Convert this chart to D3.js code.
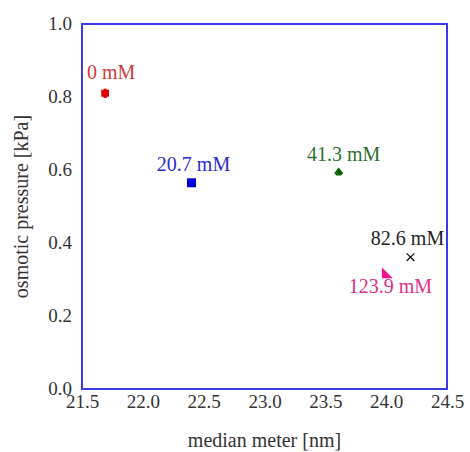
<!DOCTYPE html>
<html>
<head>
<meta charset="utf-8">
<script src="https://cdn.jsdelivr.net/npm/d3@7"></script>
<style>
  body { margin: 0; background: #fff; }
</style>
</head>
<body>
<svg id="chart" width="470" height="452"></svg>
<script>
// Données
var concentrations = ["0 mM", "20.7 mM", "41.3 mM", "82.6 mM", "123.9 mM"];
var medianMeter = [21.69, 22.40, 23.61, 24.20, 24.01];
var osmoticPressure = [0.810, 0.565, 0.595, 0.361, 0.318];
var xTicks = [21.5, 22.0, 22.5, 23.0, 23.5, 24.0, 24.5];
var yTicks = [0.0, 0.2, 0.4, 0.6, 0.8, 1.0];

var serif = "'Times New Roman', 'Liberation Serif', Tinos, 'DejaVu Serif', serif";

// Style de chaque série (couleur, symbole, décalage de l'étiquette)
var seriesStyle = [
  { mark: "#e00000", text: "#d03a3a", shape: "blob",   size: 60, dx: 6,  dy: -14 },
  { mark: "#0000dd", text: "#2b2bd0", shape: "square", size: 81, dx: 2,  dy: -12 },
  { mark: "#006400", text: "#2f6e2f", shape: "club",   size: 64, dx: 5,  dy: -11 },
  { mark: "#111111", text: "#222222", shape: "times",  size: 40, dx: -3, dy: -12 },
  { mark: "#ee1188", text: "#e0308a", shape: "corner", size: 60, dx: 3,  dy: 20 }
];

var margin = { top: 24, right: 23, bottom: 63, left: 82 };
var width = 470 - margin.left - margin.right;
var height = 452 - margin.top - margin.bottom;

var svg = d3.select("#chart").attr("font-family", serif);
var g = svg.append("g")
  .attr("transform", "translate(" + margin.left + "," + margin.top + ")");

var x = d3.scaleLinear().domain([21.5, 24.5]).range([0, width]);
var y = d3.scaleLinear().domain([0, 1]).range([height, 0]);

// Symboles maison
var symbolCorner = {
  draw: function(ctx, size) {
    var s = Math.sqrt(size) * 1.4;
    ctx.moveTo(-s / 2, -s / 2);
    ctx.lineTo(s / 2, s / 2);
    ctx.lineTo(-s / 2, s / 2);
    ctx.closePath();
  }
};
var symbolClub = {
  draw: function(ctx, size) {
    var r = Math.sqrt(size) / 2;
    ctx.moveTo(0, -r * 1.1);
    ctx.lineTo(r * 1.1, r * 0.3);
    ctx.lineTo(r * 0.6, r * 0.9);
    ctx.lineTo(-r * 0.6, r * 0.9);
    ctx.lineTo(-r * 1.1, r * 0.3);
    ctx.closePath();
  }
};
var symbolBlob = {
  draw: function(ctx, size) {
    var r = Math.sqrt(size) / 2;
    ctx.moveTo(-r * 0.4, -r * 1.2);
    ctx.lineTo(r * 0.4, -r * 1.2);
    ctx.lineTo(r * 0.4, -r * 0.9);
    ctx.lineTo(r, -r * 0.9);
    ctx.lineTo(r, r * 0.9);
    ctx.lineTo(r * 0.4, r * 0.9);
    ctx.lineTo(r * 0.4, r * 1.2);
    ctx.lineTo(-r * 0.4, r * 1.2);
    ctx.lineTo(-r * 0.4, r * 0.9);
    ctx.lineTo(-r, r * 0.9);
    ctx.lineTo(-r, -r * 0.9);
    ctx.lineTo(-r * 0.4, -r * 0.9);
    ctx.closePath();
  }
};
var shapes = {
  blob: symbolBlob,
  square: d3.symbolSquare,
  club: symbolClub,
  times: d3.symbolTimes,
  corner: symbolCorner
};

// Axes (sans graduations)
var xAxis = d3.axisBottom(x).tickValues(xTicks).tickFormat(d3.format(".1f")).tickSize(0).tickPadding(5);
var yAxis = d3.axisLeft(y).tickValues(yTicks).tickFormat(d3.format(".1f")).tickSize(0).tickPadding(10);

var gx = g.append("g")
  .attr("transform", "translate(0," + height + ")")
  .call(xAxis)
  .attr("font-family", serif);
gx.select(".domain").remove();
gx.selectAll("text")
  .attr("dy", "0.72em")
  .attr("font-size", 19)
  .attr("fill", "#333");

var gy = g.append("g").call(yAxis)
  .attr("font-family", serif);
gy.select(".domain").remove();
gy.selectAll("text")
  .attr("dy", "0.27em")
  .attr("font-size", 19)
  .attr("fill", "#333");

// Cadre
g.append("rect")
  .attr("x", 0)
  .attr("y", 0)
  .attr("width", width)
  .attr("height", height)
  .attr("fill", "none")
  .attr("stroke", "#3a3ae6")
  .attr("stroke-width", 2);

// Titres des axes
svg.append("text")
  .attr("x", margin.left + width / 2)
  .attr("y", 447)
  .attr("text-anchor", "middle")
  .attr("font-size", 20)
  .attr("fill", "#333")
  .text("median meter [nm]");

svg.append("text")
  .attr("transform", "translate(28," + (margin.top + height / 2) + ") rotate(-90)")
  .attr("text-anchor", "middle")
  .attr("font-size", 20)
  .attr("fill", "#333")
  .text("osmotic pressure [kPa]");

// Points
var points = concentrations.map(function(c, i) {
  return { label: c, mx: medianMeter[i], op: osmoticPressure[i], style: seriesStyle[i] };
});

g.selectAll("path.mark")
  .data(points)
  .enter().append("path")
  .attr("class", "mark")
  .attr("transform", function(d) { return "translate(" + x(d.mx) + "," + y(d.op) + ")"; })
  .attr("d", function(d) { return d3.symbol().type(shapes[d.style.shape]).size(d.style.size)(); })
  .attr("fill", function(d) { return d.style.shape === "times" ? "none" : d.style.mark; })
  .attr("stroke", function(d) { return d.style.shape === "times" ? d.style.mark : "none"; })
  .attr("stroke-width", 1.3);

g.selectAll("text.lab")
  .data(points)
  .enter().append("text")
  .attr("class", "lab")
  .attr("x", function(d) { return x(d.mx) + d.style.dx; })
  .attr("y", function(d) { return y(d.op) + d.style.dy; })
  .attr("text-anchor", "middle")
  .attr("font-size", 20)
  .attr("fill", function(d) { return d.style.text; })
  .text(function(d) { return d.label; });
</script>
</body>
</html>
